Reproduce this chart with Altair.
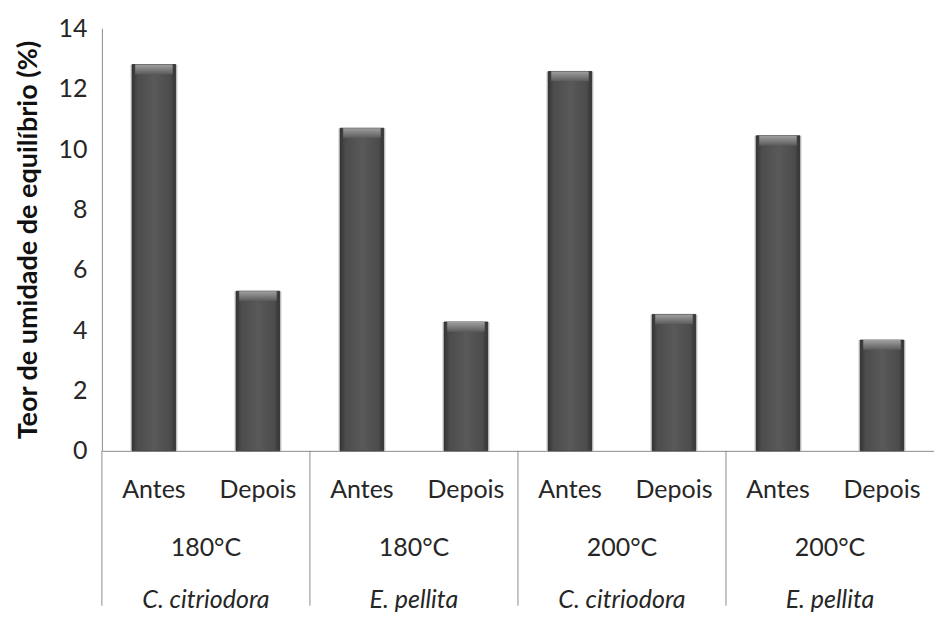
import altair as alt
import pandas as pd

# ---- data ----
species = ["C. citriodora", "E. pellita", "C. citriodora", "E. pellita"]
temps = ["180°C", "180°C", "200°C", "200°C"]
phases = ["Antes", "Depois"]
antes_vals = [12.80, 10.69, 12.57, 10.44]
depois_vals = [5.29, 4.27, 4.52, 3.67]

rows = []
for i in range(4):
    for ph, vals in zip(phases, [antes_vals, depois_vals]):
        rows.append({
            "key": f"{i}|{ph}",
            "group": i,
            "species": species[i],
            "temp": temps[i],
            "phase": ph,
            "value": vals[i],
        })
df = pd.DataFrame(rows)
order = list(df["key"])

W, H = 833, 423
FONT = "Lato"
TXT = "#262626"

xscale = alt.Scale(domain=order, paddingInner=0, paddingOuter=0)
x_noaxis = alt.X("key:N", scale=xscale, sort=order,
                 axis=alt.Axis(labels=False, ticks=False, title=None,
                               domainColor="#8c8c8c", domainWidth=1))
yscale = alt.Scale(domain=[0, 14])

base = alt.Chart(df)

bar_fill = alt.Gradient(
    gradient="linear", x1=0, x2=1, y1=0, y2=0,
    stops=[
        alt.GradientStop(color="#333333", offset=0),
        alt.GradientStop(color="#4c4c4c", offset=0.12),
        alt.GradientStop(color="#595959", offset=0.5),
        alt.GradientStop(color="#4c4c4c", offset=0.88),
        alt.GradientStop(color="#333333", offset=1),
    ],
)
bevel_fill = alt.Gradient(
    gradient="linear", x1=0, x2=0, y1=0, y2=1,
    stops=[
        alt.GradientStop(color="#a0a0a0", offset=0),
        alt.GradientStop(color="#5c5c5c", offset=1),
    ],
)

shadow = base.mark_bar(width=alt.RelativeBandSize(0.46), color="#c8c8c8",
                       opacity=0.5).encode(
    x=x_noaxis,
    y=alt.Y("value:Q", scale=yscale),
)

bars = base.mark_bar(width=alt.RelativeBandSize(0.42), color=bar_fill,
                     stroke="#2a2a2a", strokeWidth=0.8).encode(
    x=x_noaxis,
    y=alt.Y("value:Q", scale=yscale,
            axis=alt.Axis(title="Teor de umidade de equilíbrio (%)",
                          values=[0, 2, 4, 6, 8, 10, 12, 14],
                          grid=False, ticks=False,
                          domainColor="#8c8c8c", domainWidth=1,
                          labelFont=FONT, labelFontSize=25, labelColor=TXT,
                          labelPadding=15,
                          titleFont=FONT, titleFontSize=27,
                          titleFontWeight="bold", titleColor="#111111",
                          titlePadding=15)),
)

bevel = base.transform_calculate(low="datum.value - 0.32").mark_bar(
    width=alt.RelativeBandSize(0.36), color=bevel_fill).encode(
    x=x_noaxis,
    y=alt.Y("value:Q", scale=yscale),
    y2="low:Q",
)

phase_text = base.mark_text(font=FONT, fontSize=25, color=TXT,
                            baseline="middle").encode(
    x=x_noaxis,
    y=alt.value(H + 39),
    text="phase:N",
)

antes_only = base.transform_filter(alt.datum.phase == "Antes")

temp_text = antes_only.mark_text(font=FONT, fontSize=25, color=TXT,
                                 baseline="middle").encode(
    x=alt.X("key:N", scale=xscale, sort=order, bandPosition=1),
    y=alt.value(H + 97),
    text="temp:N",
)

sp_text = antes_only.mark_text(font=FONT, fontSize=25, color=TXT,
                               fontStyle="italic", baseline="middle").encode(
    x=alt.X("key:N", scale=xscale, sort=order, bandPosition=1),
    y=alt.value(H + 149),
    text="species:N",
)

seps = antes_only.mark_rule(color="#8c8c8c", strokeWidth=1).encode(
    x=alt.X("key:N", scale=xscale, sort=order, bandPosition=0),
    y=alt.value(H),
    y2=alt.value(H + 155),
)

chart = alt.layer(shadow, bars, bevel, phase_text, temp_text, sp_text, seps).properties(
    width=W, height=H,
    padding={"top": 8, "left": 6, "right": 0, "bottom": 0},
    background="white",
).configure_view(stroke=None)

chart.save("out.html", embed_options={"renderer": "svg", "actions": False})
